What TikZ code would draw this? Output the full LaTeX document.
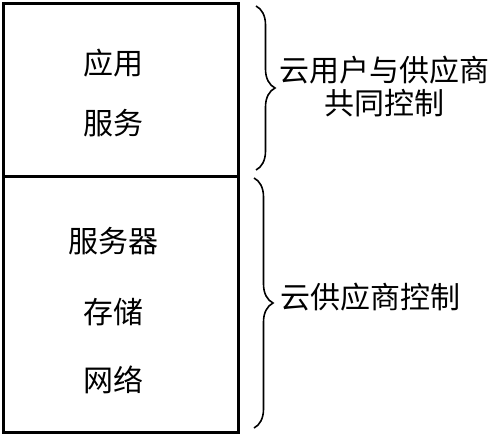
\documentclass[tikz,border=0pt]{standalone}
\usepackage{fontspec}
\setmainfont{Noto Sans CJK SC}
\usetikzlibrary{decorations.pathreplacing}
\begin{document}
\begin{tikzpicture}[x=1pt,y=-1pt,
  boxline/.style={line width=3pt},
  lbl/.style={font=\fontsize{30}{33}\selectfont, inner sep=0pt, align=center},
  bracestyle/.style={line width=1.6pt, decorate, decoration={brace, amplitude=19pt}}]
\useasboundingbox (0,0) rectangle (492,434);
\node[draw, boxline, minimum width=235pt, minimum height=173pt, anchor=north west, inner sep=0pt] (top) at (2,2) {};
\node[draw, boxline, minimum width=235pt, minimum height=256pt, anchor=north west, inner sep=0pt] (bot) at (2,175) {};
\node[lbl] (a1) at (113,63) {应用};
\node[lbl] (a2) at (113,123) {服务};
\node[lbl] (b1) at (113,241) {服务器};
\node[lbl] (b2) at (113,312) {存储};
\node[lbl] (b3) at (113,380) {网络};
\coordinate (t1) at (256,6);
\coordinate (t2) at (256,170);
\coordinate (u1) at (254,178);
\coordinate (u2) at (254,428);
\draw[bracestyle] (t1) -- (t2);
\draw[bracestyle] (u1) -- (u2);
\node[lbl] (c1) at (384.5,86.5) {云用户与供应商\\共同控制};
\node[lbl, anchor=west] (c2) at (280,297) {云供应商控制};
\end{tikzpicture}
\end{document}
